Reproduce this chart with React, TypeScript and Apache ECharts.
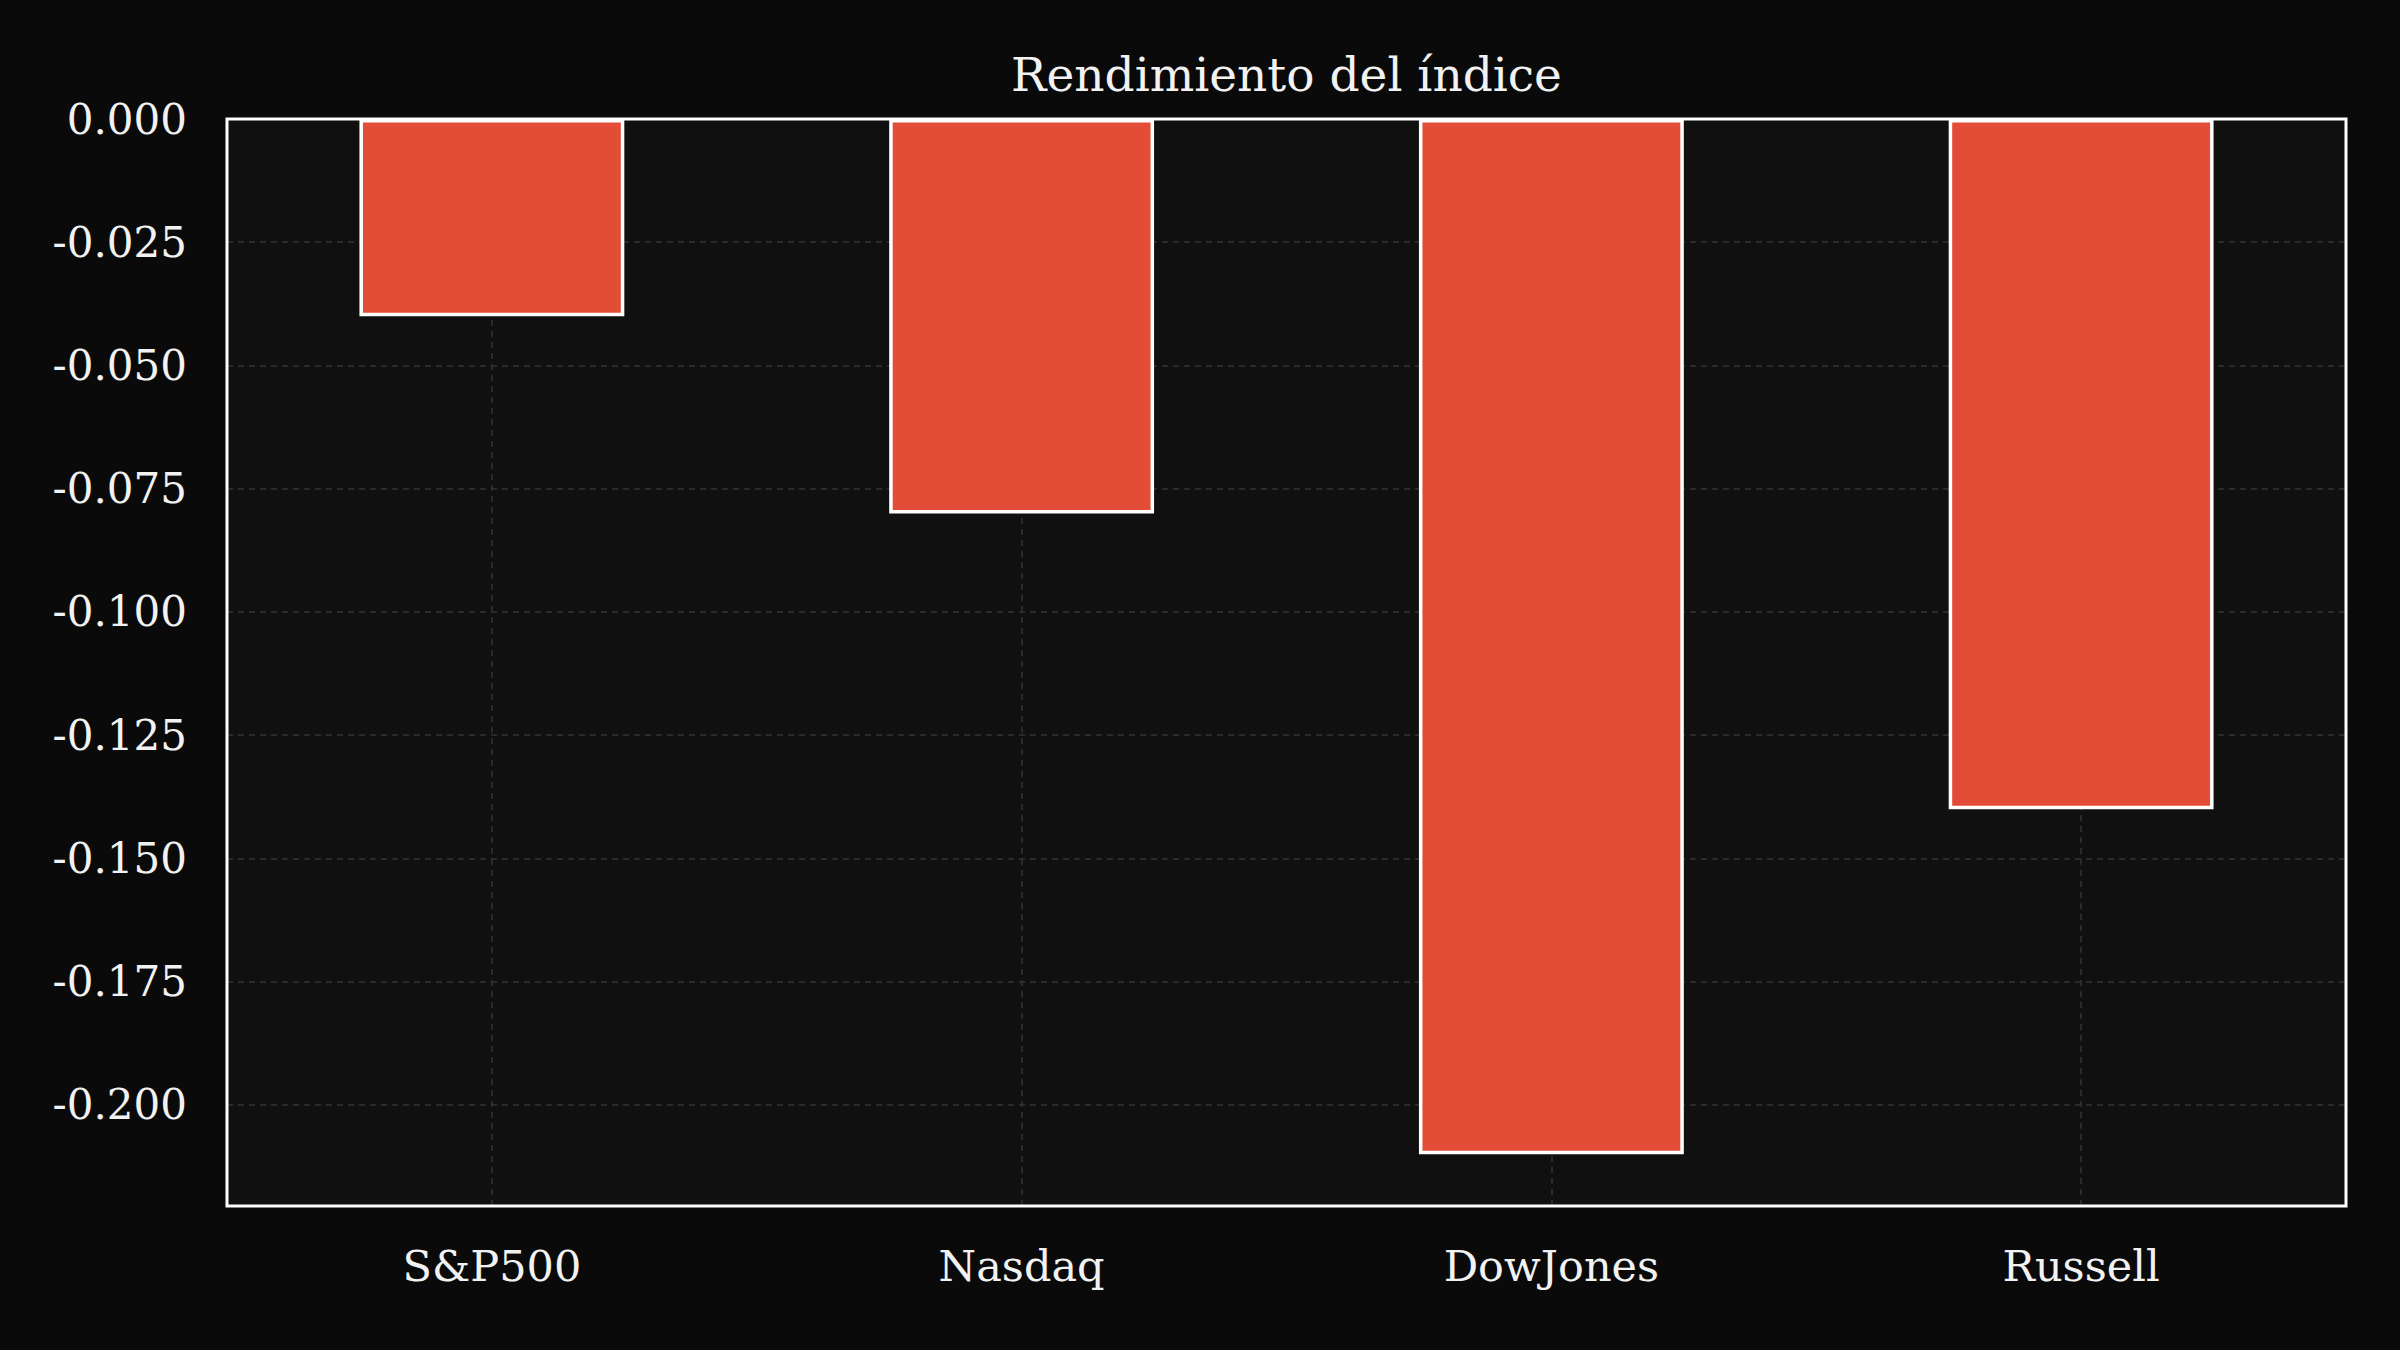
import React, { useEffect, useRef } from "react";
import * as echarts from "echarts";

const categories = ["S&P500", "Nasdaq", "DowJones", "Russell"];
const returns = [-0.04, -0.08, -0.21, -0.14];
const yMin = -0.2205;
const yMax = 0;
const yStep = 0.025;
const titleText = "Rendimiento del índice";

const FONT = "'DejaVu Serif', serif";
const W = 2400;
const H = 1350;
const G = { left: 227, right: 54, top: 119, bottom: 144 };

export default function App() {
  const ref = useRef<HTMLDivElement>(null);
  useEffect(() => {
    document.body.style.margin = "0";
    document.body.style.background = "#0a0a0a";
    const chart = echarts.init(ref.current!, null, { renderer: "svg" });
    const gw = W - G.left - G.right;
    const gh = H - G.top - G.bottom;
    chart.setOption({
      animation: false,
      backgroundColor: "#0a0a0a",
      graphic: [
        {
          type: "text",
          x: G.left + gw / 2,
          y: 74,
          style: {
            text: titleText,
            fill: "#f2f2f2",
            font: `normal 47px ${FONT}`,
            align: "center",
            verticalAlign: "middle",
          },
          z: 100,
        },
        {
          type: "rect",
          shape: { x: G.left, y: G.top, width: gw, height: gh },
          style: { fill: "transparent", stroke: "#ffffff", lineWidth: 3 },
          silent: true,
          z: 100,
        },
      ],
      grid: {
        left: G.left,
        right: G.right,
        top: G.top,
        bottom: G.bottom,
        show: true,
        backgroundColor: "#101010",
        borderColor: "#ffffff",
        borderWidth: 0,
        containLabel: false,
      },
      xAxis: {
        type: "category",
        data: categories,
        axisLine: { show: false },
        axisTick: { show: false },
        splitLine: { show: false },
        axisLabel: { color: "#f2f2f2", fontFamily: FONT, fontSize: 43, margin: 38 },
      },
      yAxis: {
        type: "value",
        min: yMin,
        max: yMax,
        minInterval: yStep,
        maxInterval: yStep,
        axisLine: { show: false },
        axisTick: { show: false },
        axisLabel: {
          color: "#f2f2f2",
          fontFamily: FONT,
          fontSize: 42,
          margin: 40,
          showMinLabel: false,
          formatter: (v: number) => (Math.abs(v) < 1e-9 ? 0 : v).toFixed(3),
        },
        splitLine: { show: true, lineStyle: { color: "#333333", width: 1.5, type: [6, 5] } },
      },
      series: [
        {
          type: "bar",
          data: returns,
          barWidth: "50%",
          itemStyle: { color: "#e34d37", borderColor: "#ffffff", borderWidth: 3.5 },
          z: 3,
          markLine: {
            silent: true,
            symbol: ["none", "none"],
            z: 1,
            label: { show: false },
            lineStyle: { color: "#333333", width: 1.5, type: [6, 5] },
            data: categories.map((c) => ({ xAxis: c })),
          },
        },
      ],
    });
    return () => chart.dispose();
  }, []);
  return <div ref={ref} style={{ width: W, height: H }} />;
}
